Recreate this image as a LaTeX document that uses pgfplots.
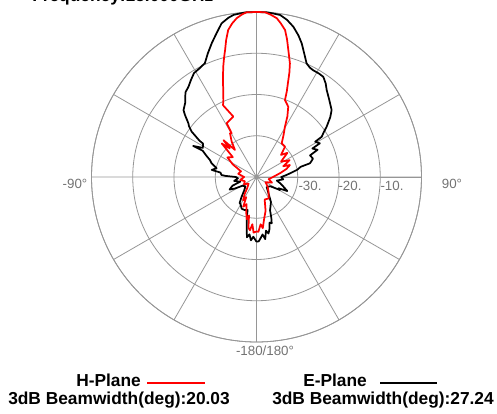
\documentclass[border=0pt]{standalone}
\usepackage{fontspec}
\setmainfont{Liberation Sans}
\usepackage{pgfplots}
\pgfplotsset{compat=1.18}
\usepgfplotslibrary{polar}
\usepackage{pgfplotstable}

\pgfplotstableread{
theta dB
-180 -24.3
-177 -25.5
-175 -24.6
-173 -26
-171 -25.2
-169 -27.5
-167.6 -28.9
-166 -30.5
-165 -31.7
-160 -31.5
-155 -31.5
-150 -32.3
-147 -32.5
-143 -34
-138 -35.5
-130 -36.5
-122 -36
-118 -34
-115 -32.8
-110 -33.8
-106 -35.9
-100 -34.5
-94 -35.5
-90 -35
-88 -32.5
-86.7 -31.5
-83 -31.2
-81 -29
-77.7 -30.1
-73 -28.6
-70 -28
-67 -26.8
-64 -25.5
-63.9 -22.9
-61.5 -25.2
-58 -24.7
-57.5 -23.6
-55 -20.8
-53 -19.5
-51.8 -19
-49 -17
-47.5 -16
-44 -15.1
-40 -13.2
-37 -12.6
-34 -11.6
-31 -10.6
-28 -10.3
-24.4 -9.7
-21.5 -7.8
-18.5 -5.8
-15.5 -3.8
-12.8 -1.8
-10 -0.8
-8 -0.3
-4 0
0 0
4 0
8.3 -0.3
11 -1.2
13.8 -2.5
16.5 -4.2
18.7 -5.8
21 -7.8
23.8 -9.9
26 -10.5
27.9 -10.7
31 -10.7
33.7 -10.8
36.5 -11.8
38.9 -12.9
43 -14.2
48.3 -15.6
51 -17
54.4 -19.1
56.5 -20.5
58.3 -21.4
59 -23.4
62 -22.6
63 -24.8
66 -23.8
68 -26
72 -25.6
75.6 -26.6
77 -29
80 -30
83.7 -31.8
87 -33
90 -34
95 -33.5
100 -35
105 -34
110 -33
114.5 -31.8
117 -34
119 -33.5
124 -36
135 -36.5
144 -35
150 -33
155 -32
157.8 -31.3
160 -29.5
161.8 -28.2
164 -28.5
166 -27
168 -26
170 -26.8
172 -24.8
174 -26
176 -25.2
178 -24.4
180 -24.3
}\eplane

\pgfplotstableread{
theta dB
-180 -26.8
-177 -26.5
-175 -28.5
-173 -27
-171 -27.5
-169 -30.5
-167 -29.5
-164 -31
-160 -33
-156 -32.1
-153 -34.5
-150 -33.5
-145 -35
-140 -36.5
-130 -37.5
-120 -36.5
-110 -37
-100 -36
-90 -37
-80 -35.5
-70 -36
-62 -33.5
-56 -31.5
-50 -32.5
-46 -28.3
-43 -30.5
-41.9 -28
-38.5 -31.6
-35 -29.5
-31.2 -27.6
-29.6 -27.8
-29 -25.1
-21 -24.3
-25 -20.8
-23.3 -19.7
-21 -17.5
-19 -15
-16.8 -12.1
-15.2 -10
-13.9 -8.3
-12.5 -6
-10.9 -3.7
-9 -2.3
-7.1 -1.2
-5 -0.4
-3.4 0
0 0
2.9 0
5 -0.5
7.3 -1.2
9 -2.3
11 -3.7
12.5 -5.8
14.1 -8.3
16.4 -11.3
17.5 -13.5
18.2 -15.3
19.5 -18
20.3 -20.1
24.3 -21.3
27 -23.5
29.5 -26
33 -28
36.8 -29.8
43.2 -29.9
48 -32
52 -30.5
58 -33
63 -31
68 -33
70.3 -31.4
75 -32.5
80 -34
90 -36
100 -37
110 -36
120 -37.5
130 -36.5
140 -35.5
150 -34
160 -34.2
165 -31.5
170 -29.5
173 -27.5
175 -28.5
178 -26.7
180 -26.8
}\hplane

\definecolor{gridgray}{RGB}{150,150,150}
\definecolor{labgray}{RGB}{115,115,115}

\begin{document}
\begin{tikzpicture}
\begin{polaraxis}[
  at={(192.375pt,177.75pt)}, anchor=center,
  scale only axis, width=247.5pt, height=247.5pt,
  xmin=0, xmax=360, ymin=0, ymax=40,
  xtick={0,30,...,330}, ytick={10,20,30,40},
  xticklabels={}, yticklabels={},
  grid=major,
  major grid style={gridgray, line width=0.6pt},
  axis line style={gridgray, line width=0.6pt},
  major tick length=0pt,
  clip=false,
]
\addplot[black, line width=1.3pt, line join=round] table[x expr={90-\thisrow{theta}}, y expr={\thisrow{dB}+40}] {\eplane};
\addplot[red, line width=1.3pt, line join=round] table[x expr={90-\thisrow{theta}}, y expr={\thisrow{dB}+40}] {\hplane};
\end{polaraxis}

\begin{scope}[every node/.style={inner sep=0pt, text=labgray, font=\fontsize{10pt}{12pt}\selectfont}]
\node at (232.5pt,171pt) {-30.};
\node at (262.5pt,171pt) {-20.};
\node at (294pt,171pt) {-10.};
\node at (339pt,172.875pt) {90\textdegree};
\node at (56.25pt,172.5pt) {-90\textdegree};
\node at (198.75pt,47.25pt) {-180/180\textdegree};
\end{scope}

\begin{scope}[every node/.style={inner sep=0pt, anchor=base west, font=\bfseries\fontsize{13pt}{15pt}\selectfont}]
\node at (24pt,309.6pt) {Frequency:15.000GHz};
\node at (57pt,20.25pt) {H-Plane};
\node at (227.25pt,20.25pt) {E-Plane};
\node at (6pt,7.125pt) {3dB Beamwidth(deg):20.03};
\node at (204pt,7.125pt) {3dB Beamwidth(deg):27.24};
\end{scope}
\draw[red, line width=1.5pt] (110.25pt,23.25pt) -- (153.75pt,23.25pt);
\draw[black, line width=1.5pt] (285pt,23.25pt) -- (327.75pt,23.25pt);

\pgfresetboundingbox
\path[use as bounding box] (0pt,0pt) rectangle (372.75pt,310.5pt);
\end{tikzpicture}
\end{document}
